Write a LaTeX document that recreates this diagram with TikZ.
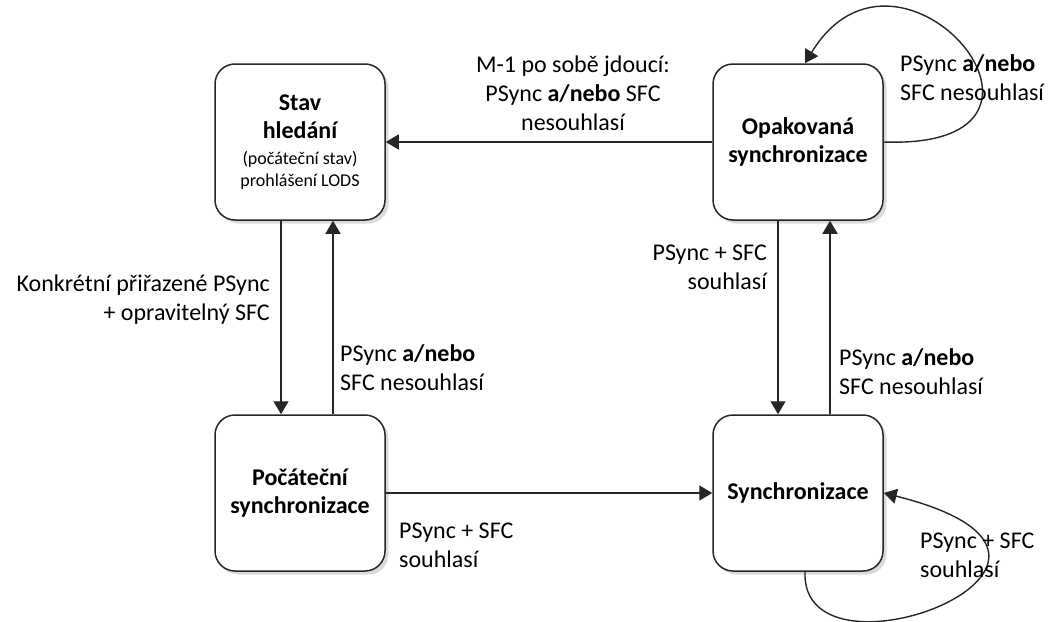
\documentclass[tikz,border=0pt]{standalone}
\usepackage{fontspec}
\setmainfont{Carlito}
\usetikzlibrary{arrows.meta,shadows}
\begin{document}
\begin{tikzpicture}[x=1pt,y=-1pt,
  state/.style={draw=black!85, line width=1.5pt, rounded corners=20pt, fill=white,
    minimum width=170pt, minimum height=156pt, align=center, inner sep=0pt,
    font=\fontsize{24}{28}\selectfont\bfseries,
    drop shadow={shadow xshift=3.5pt, shadow yshift=-3.5pt, fill=black!28}},
  arr/.style={draw=black!85, line width=1.4pt, -{Triangle[length=13pt,width=15pt]}},
  lbl/.style={inner sep=0pt, font=\fontsize{24}{29}\selectfont}]
  \useasboundingbox (0,0) rectangle (1049,621);

  % states
  \node[state] (hledani) at (300,142)
    {Stav\\hledání\\[-2pt]{\mdseries\fontsize{18}{22}\selectfont (počáteční stav)}\\[-6pt]{\mdseries\fontsize{18}{22}\selectfont prohlášení LODS}};
  \node[state] (opak) at (798,142) {Opakovaná\\synchronizace};
  \node[state] (poc) at (300,493) {Počáteční\\synchronizace};
  \node[state] (sync) at (798,493) {Synchronizace};

  % transitions
  \draw[arr] (opak.west) -- (hledani.east);
  \draw[arr] ([xshift=-19pt]hledani.south) -- ([xshift=-19pt]poc.north);
  \draw[arr] ([xshift=33pt]poc.north) -- ([xshift=33pt]hledani.south);
  \draw[arr] (poc.east) -- (sync.west);
  \draw[arr] ([xshift=-20pt]opak.south) -- ([xshift=-20pt]sync.north);
  \draw[arr] ([xshift=32pt]sync.north) -- ([xshift=32pt]opak.south);

  % self loops
  \draw[arr] (opak.east) .. controls +(220,8) and +(95,-156) .. ([xshift=7pt]opak.north);
  \draw[arr] ([xshift=7pt]sync.south) .. controls +(-5,123) and +(267,67) .. (sync.east);

  % transition labels
  \node[lbl, align=center] (l1) at (573,93) {M-1 po sobě jdoucí:\\PSync \textbf{a/nebo} SFC\\nesouhlasí};
  \node[lbl, align=right, anchor=east] (l2) at (270,300) {Konkrétní přiřazené PSync\\+ opravitelný SFC};
  \node[lbl, align=left, anchor=west] (l3) at (340,368) {PSync \textbf{a/nebo}\\SFC nesouhlasí};
  \node[lbl, align=right, anchor=east] (l4) at (767,267) {PSync + SFC\\souhlasí};
  \node[lbl, align=left, anchor=west] (l5) at (839,372) {PSync \textbf{a/nebo}\\SFC nesouhlasí};
  \node[lbl, align=left, anchor=west] (l6) at (399,545) {PSync + SFC\\souhlasí};
  \node[lbl, align=left, anchor=west] (l7) at (900,78) {PSync \textbf{a/nebo}\\SFC nesouhlasí};
  \node[lbl, align=left, anchor=west] (l8) at (920,555) {PSync + SFC\\souhlasí};
\end{tikzpicture}
\end{document}
